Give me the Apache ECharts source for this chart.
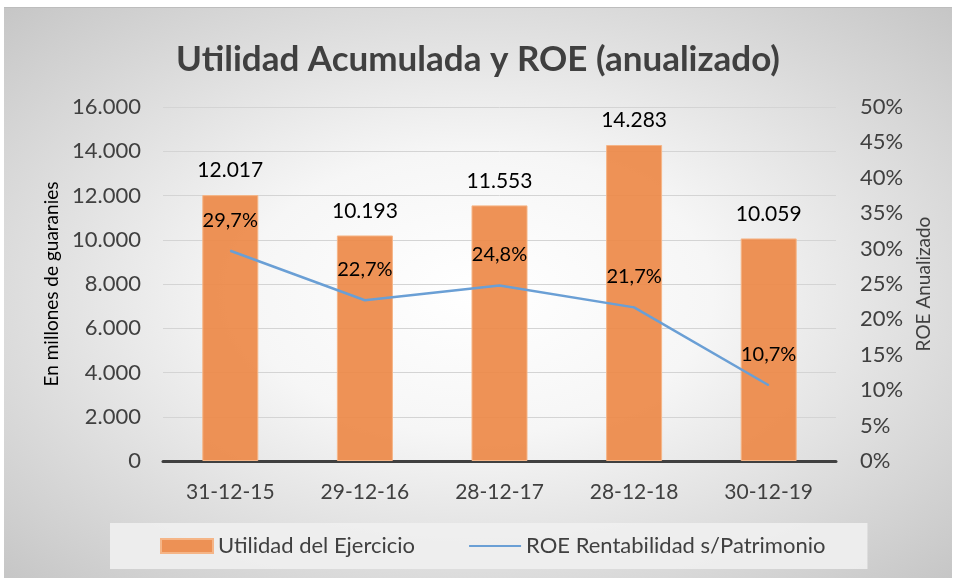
<!DOCTYPE html>
<html>
<head>
<meta charset="utf-8">
<script src="https://cdn.jsdelivr.net/npm/echarts@6/dist/echarts.min.js"></script>
<style>
  html, body { margin: 0; padding: 0; background: #fff; }
  #main {
    position: absolute; left: 4px; top: 7px; width: 948px; height: 570px;
    background: radial-gradient(ellipse at center, #ffffff 0%, #f6f6f6 35%, #c6c6c6 100%);
    border-top: 1px solid #bdbdbd;
  }
</style>
</head>
<body>
<div id="main"></div>
<script>
// datos
var fechas = ['31-12-15', '29-12-16', '28-12-17', '28-12-18', '30-12-19'];
var utilidad = [12017, 10193, 11553, 14283, 10059];
var roe = [0.297, 0.227, 0.248, 0.217, 0.107];

var fuente = 'Lato, "Open Sans", sans-serif';
var gris = '#404040';

function miles(v) {
    return String(v).replace(/\B(?=(\d{3})+(?!\d))/g, '.');
}

var myChart = echarts.init(document.getElementById('main'), null, {renderer: 'canvas'});
var option = {
    backgroundColor: 'transparent',
    animation: false,
    textStyle: {fontFamily: fuente},
    title: {
        text: 'Utilidad Acumulada y ROE (anualizado)',
        left: 'center',
        top: 29,
        textStyle: {fontFamily: fuente, fontSize: 35, fontWeight: 'bold', color: gris}
    },
    legend: {
        left: 106,
        top: 515,
        backgroundColor: 'rgba(240,240,240,0.9)',
        padding: [12, 42, 12, 50],
        itemWidth: 52,
        itemHeight: 14,
        itemGap: 54,
        textStyle: {fontFamily: fuente, fontSize: 22, color: gris},
        data: [
            {name: 'Utilidad del Ejercicio', icon: 'rect'},
            {name: 'ROE Rentabilidad s/Patrimonio', icon: 'path://M0,6 L52,6 L52,8 L0,8 Z'}
        ]
    },
    grid: {left: 159, right: 116, top: 99, bottom: 117, containLabel: false},
    xAxis: {
        type: 'category',
        data: fechas,
        axisLine: {lineStyle: {color: gris, width: 3}},
        axisTick: {show: false},
        axisLabel: {fontFamily: fuente, fontSize: 21, color: gris, margin: 21}
    },
    yAxis: [{
        type: 'value',
        min: 0, max: 16000, interval: 2000,
        name: 'En millones de guaranies',
        nameLocation: 'middle',
        nameRotate: 90,
        nameGap: 89,
        nameTextStyle: {fontFamily: fuente, fontSize: 19, color: '#000'},
        axisLine: {show: false},
        axisTick: {show: false},
        axisLabel: {fontFamily: fuente, fontSize: 22, color: gris, margin: 22, formatter: miles},
        splitLine: {lineStyle: {color: '#d4d4d4', width: 1}}
    }, {
        type: 'value',
        min: 0, max: 0.5, interval: 0.05,
        name: 'ROE Anualizado',
        nameLocation: 'middle',
        nameRotate: 90,
        nameGap: 77,
        nameTextStyle: {fontFamily: fuente, fontSize: 19, color: gris},
        axisLine: {show: false},
        axisTick: {show: false},
        splitLine: {show: false},
        axisLabel: {
            fontFamily: fuente, fontSize: 22, color: gris, margin: 24,
            formatter: function (v) { return Math.round(v * 100) + '%'; }
        }
    }],
    series: [{
        name: 'Utilidad del Ejercicio',
        type: 'bar',
        barWidth: 56,
        data: utilidad,
        itemStyle: {color: 'rgba(237,137,72,0.92)', borderColor: '#f5b587', borderWidth: 1},
        label: {
            show: true, position: 'top', distance: 14,
            fontFamily: fuente, fontSize: 21, color: '#000',
            formatter: function (p) { return miles(p.value); }
        }
    }, {
        name: 'ROE Rentabilidad s/Patrimonio',
        type: 'line',
        yAxisIndex: 1,
        data: roe,
        symbol: 'circle',
        symbolSize: 1,
        lineStyle: {color: '#6a9fd5', width: 2.5},
        itemStyle: {color: '#6a9fd5'},
        label: {
            show: true, position: 'top', distance: 20,
            fontFamily: fuente, fontSize: 20, color: '#000',
            formatter: function (p) { return (p.value * 100).toFixed(1).replace('.', ',') + '%'; }
        },
        labelLayout: {hideOverlap: false},
        z: 3
    }]
};
myChart.setOption(option);
</script>
</body>
</html>
